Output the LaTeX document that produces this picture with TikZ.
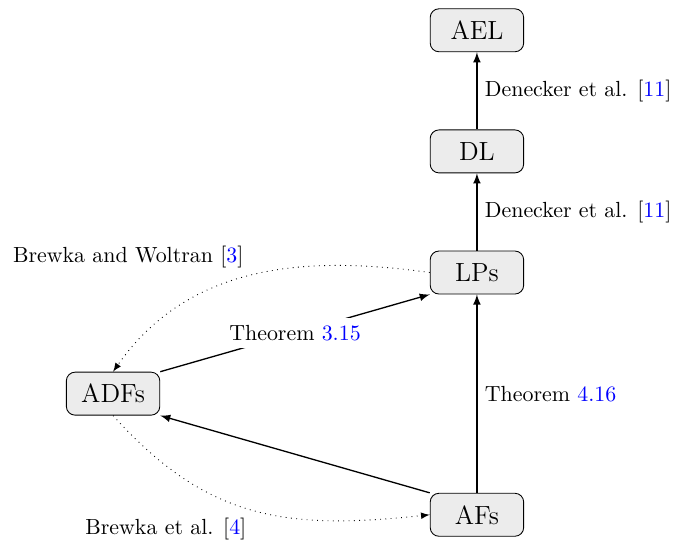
\documentclass[tikz,border=0pt]{standalone}
\usepackage{tikz}
\usetikzlibrary{arrows.meta}
\usetikzlibrary{matrix,calc,shapes}

\begin{document}
\begin{tikzpicture}[-latex]
\tikzset{
  formalism/.style = {shape=rectangle, rounded corners,
                      draw, anchor=center, fill=gray!15,
                      minimum width=1.5cm, minimum height=0.69cm,
                      font=\large, inner sep=1ex},
  link/.style      = {semithick},
  related/.style   = {dotted}
}
\newcommand{\lnk}[1]{\textcolor{blue}{#1}}
  \useasboundingbox (-4.735,4.374) rectangle (6.115,-4.342);
  \matrix (lang)
    [
      matrix of nodes,
      column sep = 4.326cm,
      row sep    = 1.24cm,
      nodes      = {formalism}
    ]
    {
           & AEL \\
           & DL  \\
           & LPs \\
      ADFs &     \\
           & AFs \\
    };
  \path[link]
    (lang-2-2) edge node[right] {Denecker et al. [\lnk{11}]} (lang-1-2)
    (lang-3-2) edge node[right] {Denecker et al. [\lnk{11}]} (lang-2-2)
    (lang-5-2) edge node[right] {Theorem \lnk{4.16}} (lang-3-2)
    (lang-5-2.north west) edge (lang-4-1.south east)
    (lang-4-1.north east) edge node[fill=white] {Theorem \lnk{3.15}} (lang-3-2.south west);
  % related results from the literature
  \draw[related] (lang-3-2.west) to[out=172, in=55]
    node[pos=0.5, above left] {Brewka and Woltran [\lnk{3}]} (lang-4-1.north);
  \draw[related] (lang-4-1.south) to[out=-48, in=186, looseness=1.1]
    node[pos=0.5, below left] {Brewka et al. [\lnk{4}]} (lang-5-2.west);
\end{tikzpicture}
\end{document}
